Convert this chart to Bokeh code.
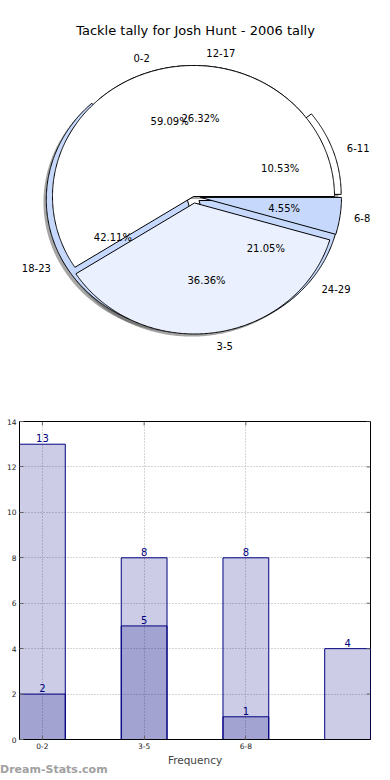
import numpy as np
from bokeh.plotting import figure
from bokeh.layouts import column
from bokeh.models import Range1d, FixedTicker, Div
from bokeh.core.properties import value
from bokeh.embed import file_html
from bokeh.resources import INLINE

# ---------------- data ----------------
chart_title = "Tackle tally for Josh Hunt - 2006 tally"
pie_a_labels = ["0-2", "3-5", "6-8"]
pie_a_values = [13, 8, 1]
pie_b_labels = ["6-11", "12-17", "18-23", "24-29"]
pie_b_values = [2, 5, 8, 4]

bar_labels = ["0-2", "3-5", "6-8"]
bar_back = [13, 8, 8, 4]
bar_front = [2, 5, 1]
y_ticks = [0, 2, 4, 6, 8, 10, 12, 14]
x_label = "Frequency"
watermark = "Dream-Stats.com"

# ---------------- style ----------------
pie_a_colors = ["#ffffff", "#eaf0fd", "#c6d9fd"]
pie_a_explode = [0.0, 0.05, 0.05]
pie_b_colors = ["#ffffff", "#ffffff", "#c6d9fd", "#c6d9fd"]
pie_b_explode = [0.05, 0.0, 0.05, 0.05]
FONT = "DejaVu Sans"

W = 374
H1 = 390
H2 = 378
BL, BR = 19, 4          # shared left/right borders (column aligns frames)
CX, CY = 193, 194
RX, RY = 141, 131


def wedges(values, explode):
    total = float(sum(values))
    out = []
    start = 0.0
    for v, e in zip(values, explode):
        span = 360.0 * v / total
        end = start + span
        mid = np.radians((start + end) / 2.0)
        dx = e * RX * np.cos(mid)
        dy = e * RY * np.sin(mid)
        th = np.radians(np.linspace(start, end, max(6, int(span * 2))))
        xs = [CX + dx] + list(CX + dx + RX * np.cos(th))
        ys = [CY + dy] + list(CY + dy + RY * np.sin(th))
        out.append(dict(xs=xs, ys=ys, mid=mid, dx=dx, dy=dy, pct=100.0 * v / total))
        start = end
    return out


wa = wedges(pie_a_values, pie_a_explode)
wb = wedges(pie_b_values, pie_b_explode)

p1 = figure(width=W, height=H1, x_range=Range1d(BL, W - BR), y_range=Range1d(0, H1),
            x_axis_type=None, y_axis_type=None, output_backend="svg",
            toolbar_location=None, min_border_left=BL, min_border_right=BR,
            min_border_top=0, min_border_bottom=0, title=None)
p1.outline_line_color = None

# shadows
sdx, sdy = -0.02 * RX, -0.02 * RY
for w in wb + wa:
    p1.patch([x + sdx for x in w["xs"]], [y + sdy for y in w["ys"]],
             fill_color="#4d4d4d", fill_alpha=0.5, line_color=None)
# second pie (underneath)
for w, c in zip(wb, pie_b_colors):
    p1.patch(w["xs"], w["ys"], fill_color=c, line_color="black", line_width=1)
# first pie (on top)
for w, c in zip(wa, pie_a_colors):
    p1.patch(w["xs"], w["ys"], fill_color=c, line_color="black", line_width=1)


def add_labels(ws, labels):
    for w, lab in zip(ws, labels):
        lx = CX + w["dx"] + 1.1 * RX * np.cos(w["mid"])
        ly = CY + w["dy"] + 1.1 * RY * np.sin(w["mid"])
        align = "left" if np.cos(w["mid"]) > 0 else "right"
        p1.text([lx], [ly], text=[lab], text_align=align, text_baseline="middle",
                text_font=value(FONT), text_font_size="10px", text_color="black")
        px = CX + w["dx"] + 0.6 * RX * np.cos(w["mid"])
        py = CY + w["dy"] + 0.6 * RY * np.sin(w["mid"])
        p1.text([px], [py], text=["%.2f%%" % w["pct"]], text_align="center",
                text_baseline="middle", text_font=value(FONT),
                text_font_size="10px", text_color="black")


add_labels(wa, pie_a_labels)
add_labels(wb, pie_b_labels)

p1.text([195], [H1 - 30], text=[chart_title], text_align="center",
        text_baseline="middle", text_font=value(FONT), text_font_size="13px",
        text_color="black")

# ---------------- bar chart ----------------
p2 = figure(width=W, height=H2, x_range=Range1d(-0.225, 3.225), y_range=Range1d(0, 14),
            output_backend="svg", toolbar_location=None, title=None,
            min_border_left=BL, min_border_right=BR, min_border_top=31,
            min_border_bottom=H2 - 31 - 319)
p2.outline_line_color = "black"
p2.outline_line_alpha = 1.0

xb = list(range(len(bar_back)))
xf = list(range(len(bar_front)))
p2.vbar(x=xb, top=bar_back, width=0.45, fill_color="navy", fill_alpha=0.2,
        line_color="navy", line_width=1)
p2.vbar(x=xf, top=bar_front, width=0.45, fill_color="navy", fill_alpha=0.2,
        line_color="navy", line_width=1)
p2.text(xb, bar_back, text=[str(v) for v in bar_back], text_align="center",
        text_baseline="bottom", y_offset=-2, text_font=value(FONT),
        text_font_size="10px", text_color="navy")
p2.text(xf, bar_front, text=[str(v) for v in bar_front], text_align="center",
        text_baseline="bottom", y_offset=-2, text_font=value(FONT),
        text_font_size="10px", text_color="navy")

# tick marks on the right and top frame edges
x_ticks = list(range(len(bar_labels)))
p2.ray(x=[3.225] * len(y_ticks), y=y_ticks, length=4, length_units="screen",
       angle=np.pi, line_color="#666666", line_width=1)
p2.ray(x=x_ticks, y=[14] * len(x_ticks), length=4, length_units="screen",
       angle=-np.pi / 2, line_color="#666666", line_width=1)

p2.xaxis.ticker = FixedTicker(ticks=x_ticks)
p2.xaxis.major_label_overrides = {i: lab for i, lab in enumerate(bar_labels)}
p2.yaxis.ticker = FixedTicker(ticks=y_ticks)
for ax in (p2.xaxis[0], p2.yaxis[0]):
    ax.major_tick_in = 4
    ax.major_tick_out = 0
    ax.minor_tick_line_color = None
    ax.major_tick_line_color = "#666666"
    ax.axis_line_color = "black"
    ax.major_label_text_font = FONT
    ax.major_label_text_font_size = "7.5px"
    ax.major_label_text_color = "#222222"
    ax.major_label_standoff = 3
p2.xaxis.axis_label = x_label
p2.xaxis.axis_label_text_font = FONT
p2.xaxis.axis_label_text_font_size = "10.5px"
p2.xaxis.axis_label_text_font_style = "normal"
p2.xaxis.axis_label_standoff = 2
p2.grid.grid_line_color = "#aaaaaa"
p2.grid.grid_line_dash = "1 2"
p2.grid.grid_line_width = 1

wm = Div(text=watermark, width=120, height=12, margin=(-4, 0, 0, 0),
         styles={"font-family": FONT, "font-size": "11px", "font-weight": "bold",
                 "color": "#a0a0a0", "line-height": "12px", "white-space": "nowrap"})

layout = column(p1, p2, wm, spacing=0)
open("out.html", "w").write(file_html(layout, INLINE))
